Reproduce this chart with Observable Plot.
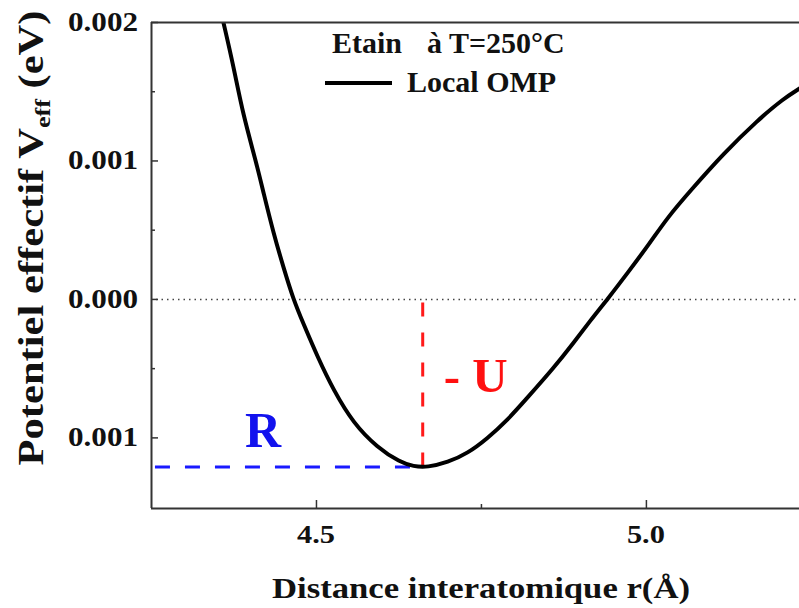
<!DOCTYPE html>
<html><head><meta charset="utf-8">
<script src="https://cdn.jsdelivr.net/npm/d3@7"></script>
<script src="https://cdn.jsdelivr.net/npm/@observablehq/plot@0.6"></script>
<style>body{margin:0;background:#fff}</style>
</head><body><div id="chart"></div>
<script>
// Data
const r = [4.359,4.374,4.389,4.408,4.420,4.435,4.450,4.465,4.480,4.502,4.526,4.556,4.592,4.627,4.647,4.668,4.699,4.729,4.759,4.789,4.820,4.859,4.889,4.915,4.942,4.971,5.006,5.032,5.067,5.117,5.168,5.208,5.232];
const v = [0.002000,0.001690,0.001329,0.001004,0.000765,0.000477,0.000231,0,-0.000173,-0.000419,-0.000657,-0.000895,-0.001069,-0.001177,-0.001206,-0.001213,-0.001177,-0.001112,-0.001004,-0.000874,-0.000708,-0.000498,-0.000318,-0.000152,0.000007,0.000188,0.000412,0.000592,0.000787,0.001054,0.001292,0.001451,0.001523];
const xDomain = [4.25, 5.232];
const yDomain = [-0.00151, 0.002];
const yTicks = [0.002, 0.001, 0, -0.001];
const yTickLabels = ["0.002", "0.001", "0.000", "0.001"];
const yMinor = [0.0015, 0.0005, -0.0005];
const xTicks = [4.5, 5.0];
const xTickLabels = ["4.5", "5.0"];
const xMinor = [4.75];
const rMin = 4.661, vMin = -0.00121;   // location of the well minimum
const rStart = 4.256;
const legendTitle = ["Etain", "à T=250°C"];
const seriesName = "Local OMP";
const xLabel = "Distance interatomique r(Å)";
const yLabelParts = ["Potentiel effectif V", "eff", " (eV)"];
const labelR = "R", labelU = "- U";
const labelRPos = [4.42, -0.000946];
const labelUPos = [4.742, -0.000549];

const FONT = "Liberation Serif";
const data = r.map((d, i) => ({r: d, v: v[i]}));
const W = 799, H = 608, ML = 151, MT = 22, MR = 0, MB = 100;
const PW = W - ML - MR, PH = H - MT - MB;
const axisColor = "#333";

const chart = Plot.plot({
  width: W, height: H,
  marginLeft: ML, marginTop: MT, marginRight: MR, marginBottom: MB,
  x: {domain: xDomain, axis: null},
  y: {domain: yDomain, axis: null},
  marks: [
    Plot.ruleY([0], {stroke: "#444", strokeWidth: 1.5, strokeDasharray: "1.5,4", insetLeft: 5}),
    Plot.ruleY([vMin], {x1: rStart, x2: rMin, stroke: "#1a1aff", strokeWidth: 3, strokeDasharray: "15,15"}),
    Plot.ruleX([rMin], {y1: vMin, y2: 0, stroke: "#ff1a1a", strokeWidth: 3, strokeDasharray: "14,16"}),
    Plot.line(data, {x: "r", y: "v", stroke: "black", strokeWidth: 4, curve: "basis", clip: true}),
    // frame
    Plot.ruleX([xDomain[0]], {stroke: axisColor, strokeWidth: 2}),
    Plot.ruleY([yDomain[0]], {stroke: axisColor, strokeWidth: 2}),
    Plot.ruleY([yDomain[1]], {stroke: axisColor, strokeWidth: 2}),
    // inward ticks
    Plot.ruleY(yTicks, {stroke: axisColor, strokeWidth: 1.5, insetRight: PW - 7}),
    Plot.ruleY(yMinor, {stroke: axisColor, strokeWidth: 1.5, insetRight: PW - 4}),
    Plot.ruleX(xTicks, {stroke: axisColor, strokeWidth: 1.5, insetTop: PH - 8}),
    Plot.ruleX(xMinor, {stroke: axisColor, strokeWidth: 1.5, insetTop: PH - 4})
  ]
});
document.getElementById("chart").appendChild(chart);

// positions through Plot's own scales
const sx = chart.scale("x"), sy = chart.scale("y");
const fx = sx.apply ? (d => sx.apply(d)) : d3.scaleLinear(sx.domain, sx.range);
const fy = sy.apply ? (d => sy.apply(d)) : d3.scaleLinear(sy.domain, sy.range);

const svg = d3.select(chart);
function label(x, y, str, size, opts = {}) {
  const t = svg.append("text")
    .attr("x", x).attr("y", y)
    .attr("text-anchor", opts.anchor || "start")
    .attr("fill", opts.fill || "#111")
    .style("font-family", FONT).style("font-weight", "bold").style("font-size", size + "px")
    .text(str);
  if (opts.len) t.attr("textLength", opts.len).attr("lengthAdjust", "spacingAndGlyphs");
  return t;
}
// tick labels
yTicks.forEach((d, i) => label(ML - 13, fy(d) + 9, yTickLabels[i], 27, {anchor: "end", len: 70}));
xTicks.forEach((d, i) => label(fx(d), H - MB + 35, xTickLabels[i], 26, {anchor: "middle", len: 38}));
// annotations
label(fx(labelRPos[0]), fy(labelRPos[1]) + 17, labelR, 50, {anchor: "middle", fill: "#1212ee"});
label(fx(labelUPos[0]), fy(labelUPos[1]) + 17, labelU, 49, {anchor: "middle", fill: "#ff1010"});
// legend
label(332, 53, legendTitle[0], 30);
label(427, 53, legendTitle[1], 30);
label(407, 92, seriesName, 30);
svg.append("line").attr("x1", 325).attr("x2", 392).attr("y1", 83).attr("y2", 83)
  .attr("stroke", "black").attr("stroke-width", 4);
// x title
label(ML + PW / 2 + 6, 598, xLabel, 29, {anchor: "middle", len: 418});
// y title with subscript
const yt = svg.append("text")
  .attr("transform", "translate(43,238) rotate(-90)")
  .attr("text-anchor", "middle")
  .attr("fill", "#111")
  .style("font-family", FONT)
  .style("font-weight", "bold").style("font-size", "36px");
yt.append("tspan").text(yLabelParts[0]);
yt.append("tspan").attr("dy", 7).style("font-size", "22px").text(yLabelParts[1]);
yt.append("tspan").attr("dy", -7).text(yLabelParts[2]);
yt.attr("textLength", 455).attr("lengthAdjust", "spacingAndGlyphs");
</script>
</body></html>
